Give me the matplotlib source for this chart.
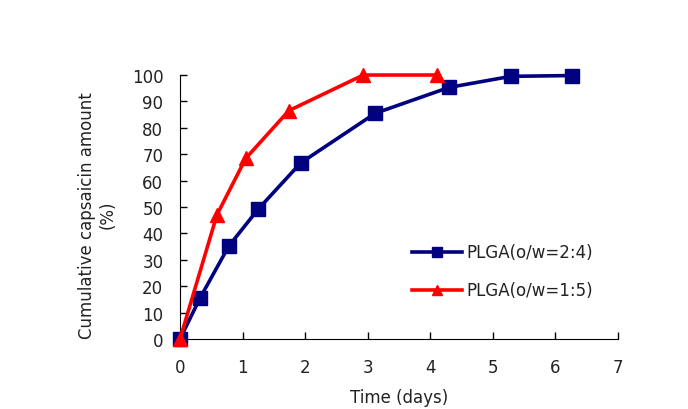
import matplotlib
matplotlib.use("Agg")
import matplotlib.pyplot as plt

days_a = [0, 0.32, 0.78, 1.25, 1.93, 3.12, 4.30, 5.29, 6.26]
release_a = [0, 15.5, 35.2, 49.2, 66.7, 85.5, 95.3, 99.5, 99.8]
days_b = [0, 0.59, 1.05, 1.74, 2.93, 4.10]
release_b = [0, 47.0, 68.4, 86.5, 100, 100]
label_a = "PLGA(o/w=2:4)"
label_b = "PLGA(o/w=1:5)"

plt.rcParams['font.family'] = ['DejaVu Sans']
fig = plt.figure(figsize=(6.88, 4.10), dpi=100)
ax = fig.add_axes([0.2616, 0.1707, 0.6366, 0.6439])

ax.plot(days_a, release_a, color='#000080', lw=2.6, marker='s', ms=10,
        label=label_a, clip_on=False, zorder=3)
ax.plot(days_b, release_b, color='#FF0000', lw=2.6, marker='^', ms=10,
        label=label_b, clip_on=False, zorder=4)

ax.set_xlim(0, 7)
ax.set_ylim(0, 100)
ax.set_xticks(range(0, 8))
ax.set_yticks(range(0, 101, 10))
for s in ['top', 'right']:
    ax.spines[s].set_visible(False)
ax.tick_params(direction='in', length=5, width=1, labelsize=12, colors='black')
ax.tick_params(axis='y', pad=12)
ax.tick_params(axis='x', pad=14)
for lbl in ax.get_xticklabels() + ax.get_yticklabels():
    lbl.set_color('#222222')

ax.set_xlabel("Time (days)", fontsize=12, color='#222222', labelpad=8)
ax.set_ylabel("Cumulative capsaicin amount\n(%)", fontsize=12, color='#222222',
              labelpad=11, linespacing=1.15, y=0.473)

leg = ax.legend(loc='upper left', bbox_to_anchor=(0.53, 0.362), frameon=False,
                fontsize=12, handlelength=3.0, handletextpad=0.25,
                labelspacing=1.2, markerscale=0.75, borderpad=0,
                borderaxespad=0)
for t in leg.get_texts():
    t.set_color('#222222')

fig.savefig("out.png", dpi=100)
